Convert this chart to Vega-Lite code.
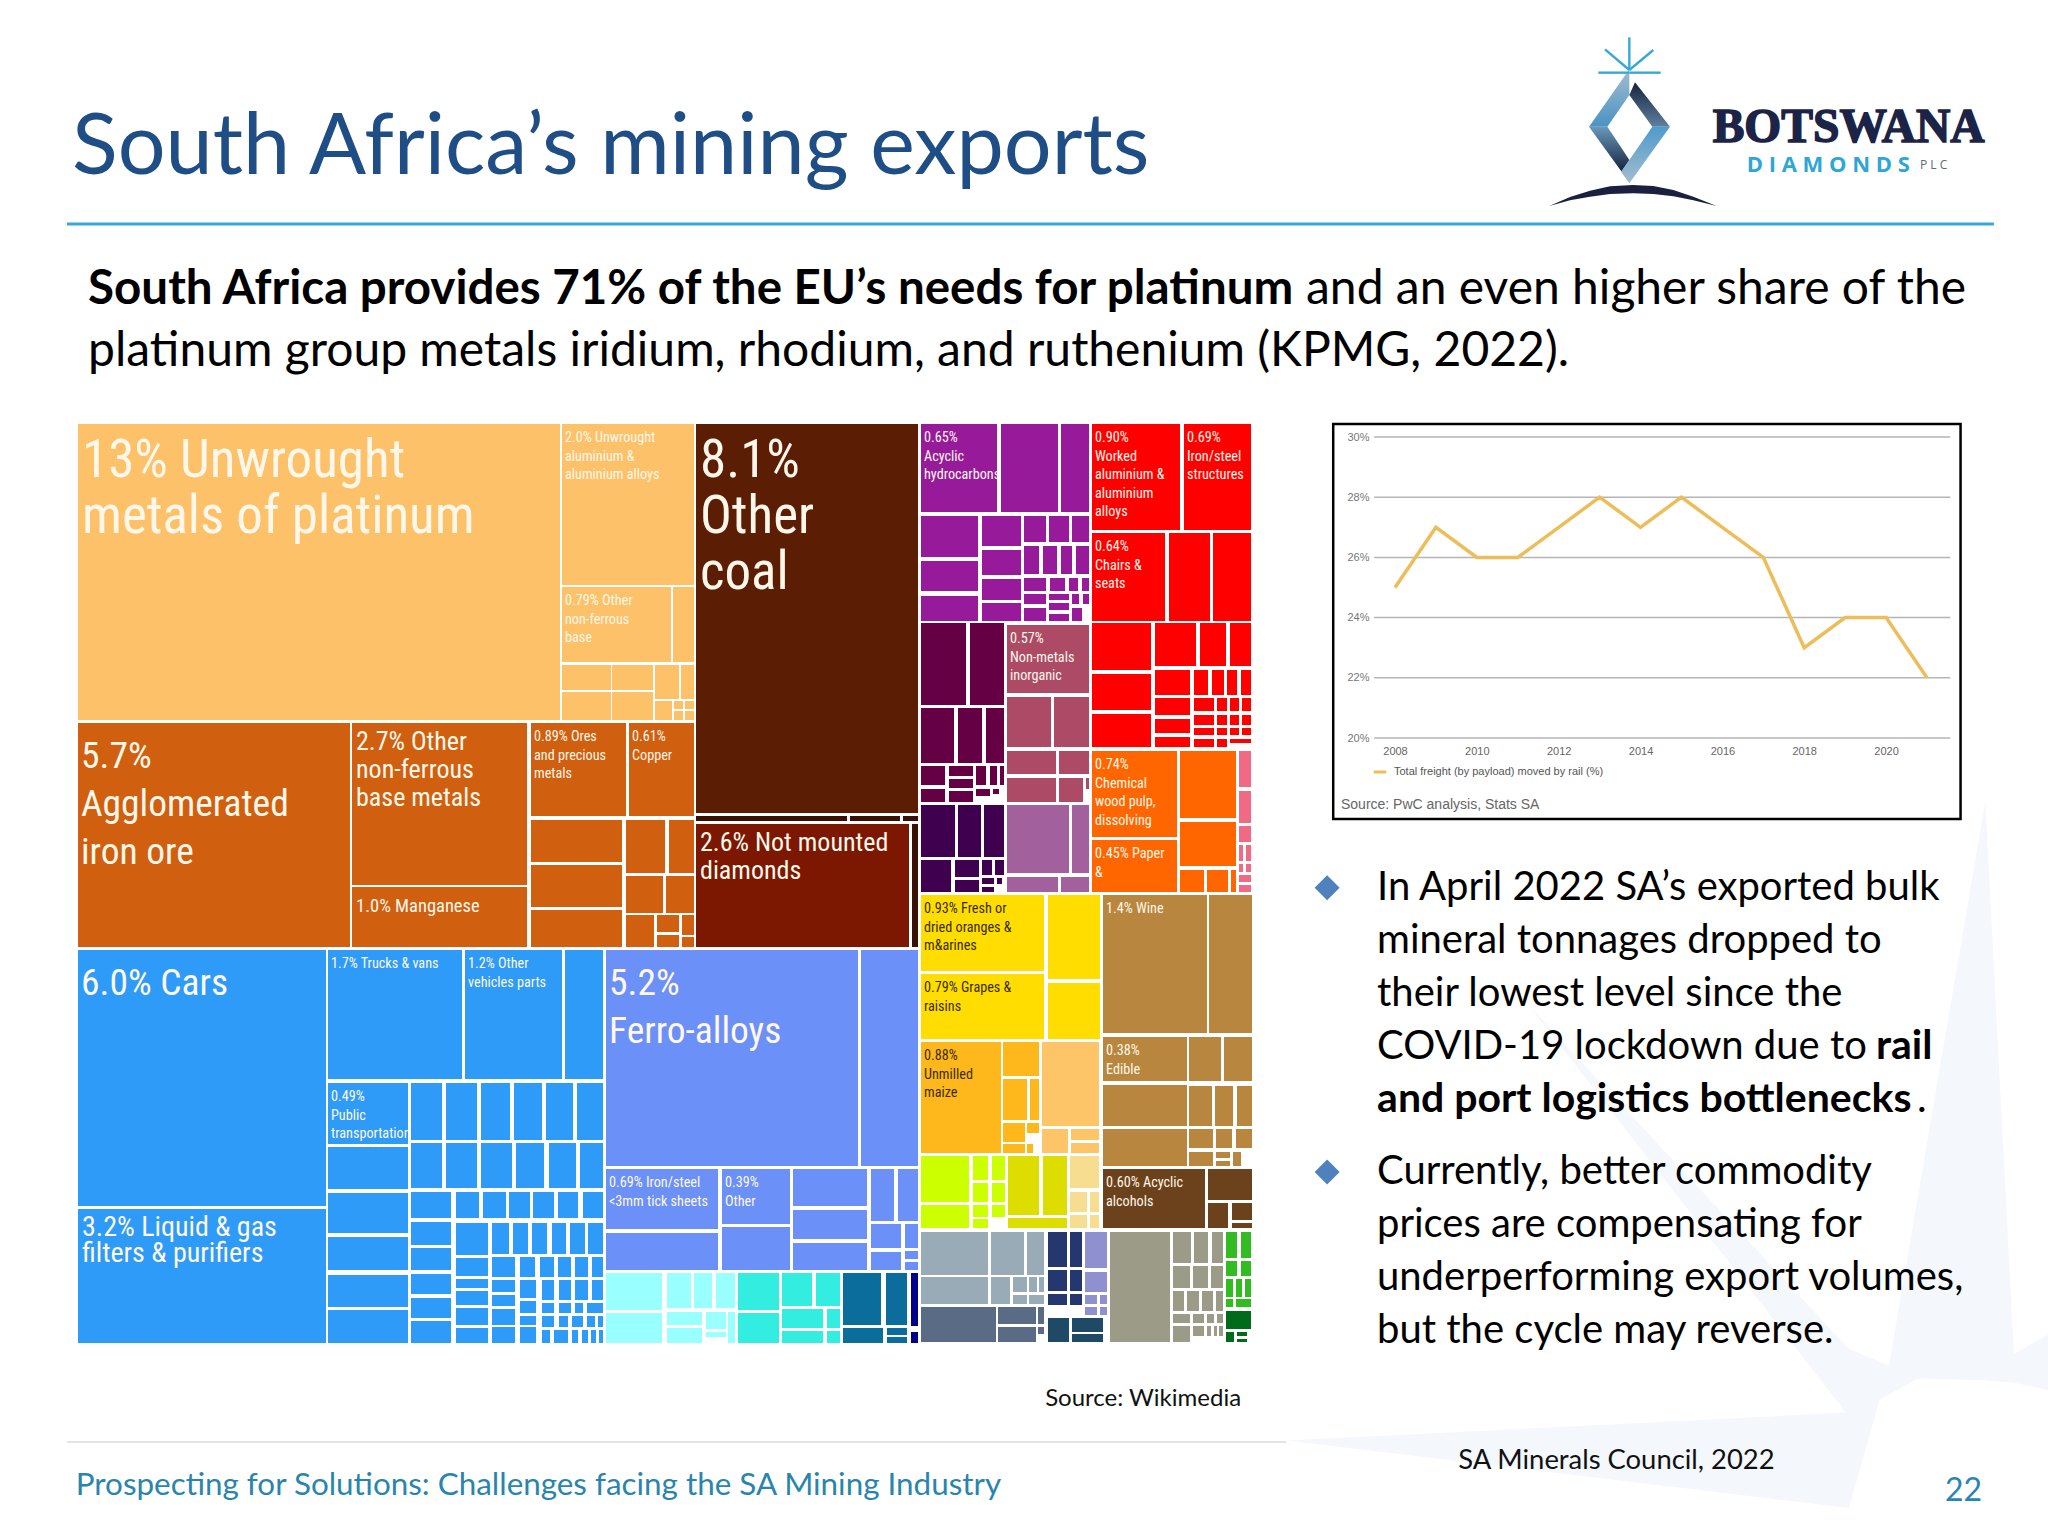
{
"$schema":"https://vega.github.io/schema/vega-lite/v6.json",
"description":"South Africa's mining exports slide",
"autosize":{"type":"fit","contains":"padding"},
"width":2048,"height":1536,"padding":0,"background":"#ffffff",
"config":{"view":{"stroke":null},"text":{"font":"Lato","baseline":"alphabetic"}},
"resolve":{"scale":{"x":"independent","y":"independent","color":"independent"},"axis":{"x":"independent","y":"independent"},"legend":{"color":"independent"}},
"datasets":{
"watermark":[
{"ray":"left","x":160,"y":1370,"y2":1370},{"ray":"left","x":1200,"y":1312,"y2":1510},{"ray":"left","x":1268,"y":1240,"y2":1240},
{"ray":"diag","x":610,"y":470,"y2":470},{"ray":"diag","x":1200,"y":1180,"y2":1320},{"ray":"diag","x":1330,"y":1240,"y2":1240},
{"ray":"up","x":1270,"y":1240,"y2":1240},{"ray":"up","x":1452,"y":45,"y2":1245},{"ray":"up","x":1505,"y":1190,"y2":1250},{"ray":"up","x":1568,"y":1150,"y2":1265}
],
"bands":[
{"band":"a","x":207,"y":320,"y2":320},{"band":"a","x":262,"y":242,"y2":320},{"band":"a","x":328,"y":148,"y2":225},
{"band":"b","x":328,"y":225,"y2":225},{"band":"b","x":345,"y":187,"y2":248},{"band":"b","x":397,"y":253,"y2":320},{"band":"b","x":450,"y":320,"y2":320},
{"band":"c","x":207,"y":320,"y2":320},{"band":"c","x":262,"y":320,"y2":396},{"band":"c","x":305,"y":385,"y2":455},{"band":"c","x":328,"y":420,"y2":420},
{"band":"d","x":303,"y":455,"y2":455},{"band":"d","x":328,"y":420,"y2":490},{"band":"d","x":397,"y":320,"y2":394},{"band":"d","x":450,"y":320,"y2":320}
],
"arc":[
{"x":88,"y":558,"y2":558},{"x":150,"y":531,"y2":541},{"x":210,"y":512,"y2":530},{"x":270,"y":499,"y2":522},{"x":339,"y":495,"y2":520},{"x":400,"y":498,"y2":522},{"x":460,"y":510,"y2":529},{"x":520,"y":530,"y2":541},{"x":590,"y":558,"y2":558}
],
"rays":[
{"ray":"n","x":328,"y":150},{"ray":"n","x":328,"y":52},
{"ray":"nw","x":328,"y":150},{"ray":"nw","x":255,"y":88},
{"ray":"ne","x":328,"y":150},{"ray":"ne","x":400,"y":90},
{"ray":"w","x":328,"y":158},{"ray":"w","x":235,"y":158},
{"ray":"e","x":328,"y":158},{"ray":"e","x":422,"y":158}
],
"rail":[
{"year":2008,"share":25},{"year":2009,"share":27},{"year":2010,"share":26},{"year":2011,"share":26},{"year":2012,"share":27},{"year":2013,"share":28},{"year":2014,"share":27},{"year":2015,"share":28},{"year":2016,"share":27},{"year":2017,"share":26},{"year":2018,"share":23},{"year":2019,"share":24},{"year":2020,"share":24},{"year":2021,"share":22}
],
"gridlines":[{"share":20},{"share":22},{"share":24},{"share":26},{"share":28},{"share":30}],
"bodyLines":[
{"line":0,"text":"In April 2022 SA’s exported bulk"},
{"line":1,"text":"mineral tonnages dropped to"},
{"line":2,"text":"their lowest level since the"},
{"line":3,"text":"COVID-19 lockdown due to"},
{"line":5.36,"text":"Currently, better commodity"},
{"line":6.36,"text":"prices are compensating for"},
{"line":7.36,"text":"underperforming export volumes,"},
{"line":8.36,"text":"but the cycle may reverse."}
],
"cells":[
{"group":"peach","x0":0,"x1":482,"y0":0,"y1":296,"label":"13% Unwrought\nmetals of platinum","tier":"xl"},
{"group":"peach","x0":484,"x1":616,"y0":0,"y1":161,"label":"2.0% Unwrought\naluminium &\naluminium alloys","tier":"t"},
{"group":"peach","x0":484,"x1":593,"y0":163,"y1":238,"label":"0.79% Other\nnon-ferrous\nbase","tier":"t"},
{"group":"peach","x0":595,"x1":616,"y0":163,"y1":238},
{"group":"peach","x0":484,"x1":533,"y0":241,"y1":266},{"group":"peach","x0":484,"x1":533,"y0":268,"y1":296},
{"group":"peach","x0":534,"x1":575,"y0":241,"y1":266},{"group":"peach","x0":534,"x1":575,"y0":268,"y1":296},
{"group":"peach","x0":577,"x1":601,"y0":241,"y1":275},{"group":"peach","x0":603,"x1":616,"y0":241,"y1":275},
{"group":"peach","x0":577,"x1":594,"y0":277,"y1":296},{"group":"peach","x0":596,"x1":605,"y0":277,"y1":285},{"group":"peach","x0":607,"x1":616,"y0":277,"y1":285},{"group":"peach","x0":596,"x1":605,"y0":287,"y1":296},{"group":"peach","x0":607,"x1":616,"y0":287,"y1":296},

{"group":"orange","x0":0,"x1":272,"y0":299,"y1":523,"label":"5.7%\nAgglomerated\niron ore","tier":"l"},
{"group":"orange","x0":274,"x1":449,"y0":299,"y1":461,"label":"2.7% Other\nnon-ferrous\nbase metals","tier":"s"},
{"group":"orange","x0":274,"x1":449,"y0":463,"y1":523,"label":"1.0% Manganese","tier":"xs"},
{"group":"orange","x0":453,"x1":548,"y0":299,"y1":392,"label":"0.89% Ores\nand precious\nmetals","tier":"t"},
{"group":"orange","x0":551,"x1":616,"y0":299,"y1":392,"label":"0.61%\nCopper","tier":"t"},
{"group":"orange","x0":453,"x1":544,"y0":396,"y1":438},{"group":"orange","x0":453,"x1":544,"y0":441,"y1":483},{"group":"orange","x0":453,"x1":544,"y0":486,"y1":523},
{"group":"orange","x0":548,"x1":587,"y0":396,"y1":449},{"group":"orange","x0":591,"x1":616,"y0":396,"y1":449},
{"group":"orange","x0":548,"x1":585,"y0":452,"y1":489},{"group":"orange","x0":588,"x1":616,"y0":452,"y1":489},
{"group":"orange","x0":548,"x1":576,"y0":491,"y1":523},{"group":"orange","x0":579,"x1":601,"y0":491,"y1":508},{"group":"orange","x0":579,"x1":601,"y0":511,"y1":523},{"group":"orange","x0":604,"x1":616,"y0":491,"y1":511},{"group":"orange","x0":604,"x1":616,"y0":513,"y1":523},

{"group":"coal","x0":618,"x1":840,"y0":0,"y1":389,"label":"8.1%\nOther\ncoal","tier":"xl"},
{"group":"coalDark","x0":618,"x1":769,"y0":392,"y1":397},{"group":"coalDark","x0":772,"x1":822,"y0":392,"y1":397},{"group":"coalDark","x0":825,"x1":840,"y0":392,"y1":397},
{"group":"diamonds","x0":618,"x1":831,"y0":400,"y1":523,"label":"2.6% Not mounted\ndiamonds","tier":"s"},
{"group":"coalDark","x0":834,"x1":840,"y0":400,"y1":523},

{"group":"purple","x0":843,"x1":919,"y0":0,"y1":88,"label":"0.65%\nAcyclic\nhydrocarbons","tier":"t"},
{"group":"purple","x0":923,"x1":980,"y0":0,"y1":88},{"group":"purple","x0":983,"x1":1011,"y0":0,"y1":88},
{"group":"purple","x0":843,"x1":900,"y0":92,"y1":133},{"group":"purple","x0":843,"x1":900,"y0":137,"y1":167},{"group":"purple","x0":843,"x1":900,"y0":172,"y1":197},
{"group":"purple","x0":904,"x1":943,"y0":92,"y1":122},{"group":"purple","x0":904,"x1":943,"y0":126,"y1":151},{"group":"purple","x0":904,"x1":943,"y0":155,"y1":176},{"group":"purple","x0":904,"x1":943,"y0":179,"y1":197},
{"group":"purple","x0":946,"x1":968,"y0":92,"y1":118},{"group":"purple","x0":971,"x1":991,"y0":92,"y1":118},{"group":"purple","x0":994,"x1":1011,"y0":92,"y1":118},
{"group":"purple","x0":946,"x1":961,"y0":122,"y1":150},{"group":"purple","x0":965,"x1":979,"y0":122,"y1":150},{"group":"purple","x0":983,"x1":994,"y0":122,"y1":150},{"group":"purple","x0":998,"x1":1011,"y0":122,"y1":150},
{"group":"purple","x0":946,"x1":968,"y0":154,"y1":167},{"group":"purple","x0":972,"x1":987,"y0":154,"y1":167},{"group":"purple","x0":991,"x1":1000,"y0":154,"y1":167},{"group":"purple","x0":1004,"x1":1011,"y0":154,"y1":167},
{"group":"purple","x0":946,"x1":968,"y0":170,"y1":180},{"group":"purple","x0":971,"x1":991,"y0":170,"y1":176},{"group":"purple","x0":994,"x1":1001,"y0":170,"y1":180},{"group":"purple","x0":1005,"x1":1011,"y0":170,"y1":180},
{"group":"purple","x0":946,"x1":968,"y0":184,"y1":197},{"group":"purple","x0":971,"x1":991,"y0":179,"y1":186},{"group":"purple","x0":971,"x1":991,"y0":190,"y1":197},{"group":"purple","x0":994,"x1":1004,"y0":184,"y1":197},

{"group":"plum","x0":843,"x1":888,"y0":199,"y1":281},{"group":"plum","x0":892,"x1":926,"y0":199,"y1":281},
{"group":"plum","x0":843,"x1":876,"y0":284,"y1":339},{"group":"plum","x0":880,"x1":904,"y0":284,"y1":339},{"group":"plum","x0":908,"x1":926,"y0":284,"y1":339},
{"group":"plum","x0":843,"x1":867,"y0":342,"y1":361},{"group":"plum","x0":871,"x1":895,"y0":342,"y1":352},{"group":"plum","x0":871,"x1":895,"y0":355,"y1":364},{"group":"plum","x0":898,"x1":908,"y0":342,"y1":361},{"group":"plum","x0":912,"x1":919,"y0":342,"y1":361},{"group":"plum","x0":922,"x1":926,"y0":342,"y1":361},
{"group":"plum","x0":843,"x1":867,"y0":365,"y1":378},{"group":"plum","x0":871,"x1":895,"y0":367,"y1":378},{"group":"plum","x0":898,"x1":912,"y0":365,"y1":372},{"group":"plum","x0":915,"x1":921,"y0":365,"y1":370},

{"group":"aubergine","x0":843,"x1":877,"y0":381,"y1":433},{"group":"aubergine","x0":880,"x1":903,"y0":381,"y1":433},{"group":"aubergine","x0":906,"x1":926,"y0":381,"y1":433},
{"group":"aubergine","x0":843,"x1":873,"y0":436,"y1":468},{"group":"aubergine","x0":877,"x1":901,"y0":436,"y1":453},{"group":"aubergine","x0":877,"x1":901,"y0":456,"y1":468},{"group":"aubergine","x0":904,"x1":914,"y0":436,"y1":451},{"group":"aubergine","x0":917,"x1":926,"y0":436,"y1":451},{"group":"aubergine","x0":904,"x1":916,"y0":454,"y1":460},{"group":"aubergine","x0":904,"x1":916,"y0":463,"y1":468},{"group":"aubergine","x0":919,"x1":924,"y0":454,"y1":460},

{"group":"rose","x0":929,"x1":1011,"y0":201,"y1":269,"label":"0.57%\nNon-metals\ninorganic","tier":"t"},
{"group":"rose","x0":929,"x1":973,"y0":273,"y1":323},{"group":"rose","x0":976,"x1":1011,"y0":273,"y1":323},
{"group":"rose","x0":929,"x1":978,"y0":327,"y1":350},{"group":"rose","x0":981,"x1":1011,"y0":327,"y1":350},
{"group":"rose","x0":929,"x1":978,"y0":354,"y1":378},{"group":"rose","x0":981,"x1":1005,"y0":354,"y1":378},{"group":"rose","x0":1008,"x1":1011,"y0":354,"y1":365},
{"group":"mauve","x0":929,"x1":991,"y0":381,"y1":449},{"group":"mauve","x0":994,"x1":1011,"y0":381,"y1":449},{"group":"mauve","x0":929,"x1":980,"y0":453,"y1":468},{"group":"mauve","x0":983,"x1":1011,"y0":453,"y1":468},

{"group":"red","x0":1014,"x1":1102,"y0":0,"y1":106,"label":"0.90%\nWorked\naluminium &\naluminium\nalloys","tier":"t"},
{"group":"red","x0":1106,"x1":1173,"y0":0,"y1":106,"label":"0.69%\nIron/steel\nstructures","tier":"t"},
{"group":"red","x0":1014,"x1":1087,"y0":109,"y1":197,"label":"0.64%\nChairs &\nseats","tier":"t"},
{"group":"red","x0":1091,"x1":1132,"y0":109,"y1":197},{"group":"red","x0":1135,"x1":1173,"y0":109,"y1":197},
{"group":"red","x0":1014,"x1":1073,"y0":199,"y1":246},{"group":"red","x0":1014,"x1":1073,"y0":250,"y1":286},{"group":"red","x0":1014,"x1":1073,"y0":290,"y1":323},
{"group":"red","x0":1077,"x1":1118,"y0":199,"y1":242},{"group":"red","x0":1122,"x1":1148,"y0":199,"y1":242},{"group":"red","x0":1152,"x1":1173,"y0":199,"y1":242},
{"group":"red","x0":1077,"x1":1112,"y0":246,"y1":271},{"group":"red","x0":1116,"x1":1130,"y0":246,"y1":271},{"group":"red","x0":1134,"x1":1146,"y0":246,"y1":271},{"group":"red","x0":1149,"x1":1159,"y0":246,"y1":271},{"group":"red","x0":1163,"x1":1173,"y0":246,"y1":271},
{"group":"red","x0":1077,"x1":1112,"y0":274,"y1":291},{"group":"red","x0":1077,"x1":1112,"y0":295,"y1":309},{"group":"red","x0":1077,"x1":1112,"y0":313,"y1":323},
{"group":"red","x0":1116,"x1":1136,"y0":274,"y1":287},{"group":"red","x0":1116,"x1":1136,"y0":291,"y1":301},{"group":"red","x0":1116,"x1":1136,"y0":304,"y1":311},{"group":"red","x0":1116,"x1":1136,"y0":315,"y1":323},
{"group":"red","x0":1139,"x1":1149,"y0":274,"y1":287},{"group":"red","x0":1152,"x1":1161,"y0":274,"y1":287},{"group":"red","x0":1164,"x1":1173,"y0":274,"y1":287},
{"group":"red","x0":1139,"x1":1149,"y0":291,"y1":301},{"group":"red","x0":1152,"x1":1161,"y0":291,"y1":301},{"group":"red","x0":1164,"x1":1173,"y0":291,"y1":301},
{"group":"red","x0":1139,"x1":1149,"y0":304,"y1":311},{"group":"red","x0":1152,"x1":1161,"y0":304,"y1":311},{"group":"red","x0":1164,"x1":1173,"y0":304,"y1":311},
{"group":"red","x0":1139,"x1":1149,"y0":315,"y1":323},{"group":"red","x0":1152,"x1":1173,"y0":315,"y1":319},

{"group":"bright","x0":1014,"x1":1099,"y0":327,"y1":413,"label":"0.74%\nChemical\nwood pulp,\ndissolving","tier":"t"},
{"group":"bright","x0":1014,"x1":1099,"y0":416,"y1":468,"label":"0.45% Paper\n&","tier":"t"},
{"group":"bright","x0":1102,"x1":1158,"y0":327,"y1":394},{"group":"bright","x0":1102,"x1":1158,"y0":398,"y1":442},
{"group":"bright","x0":1102,"x1":1126,"y0":446,"y1":468},{"group":"bright","x0":1129,"x1":1150,"y0":446,"y1":468},{"group":"bright","x0":1153,"x1":1158,"y0":446,"y1":468},
{"group":"pink","x0":1161,"x1":1173,"y0":327,"y1":363},{"group":"pink","x0":1161,"x1":1173,"y0":367,"y1":399},{"group":"pink","x0":1161,"x1":1173,"y0":402,"y1":418},
{"group":"pink","x0":1161,"x1":1165,"y0":421,"y1":437},{"group":"pink","x0":1168,"x1":1173,"y0":421,"y1":437},{"group":"pink","x0":1161,"x1":1165,"y0":440,"y1":448},{"group":"pink","x0":1168,"x1":1173,"y0":440,"y1":448},{"group":"pink","x0":1161,"x1":1173,"y0":451,"y1":458},{"group":"pink","x0":1161,"x1":1173,"y0":461,"y1":468},

{"group":"blue","x0":0,"x1":248,"y0":526,"y1":782,"label":"6.0% Cars","tier":"l"},
{"group":"blue","x0":0,"x1":248,"y0":785,"y1":919,"label":"3.2% Liquid & gas\nfilters & purifiers","tier":"m"},
{"group":"blue","x0":250,"x1":384,"y0":526,"y1":655,"label":"1.7% Trucks & vans","tier":"t"},
{"group":"blue","x0":387,"x1":484,"y0":526,"y1":655,"label":"1.2% Other\nvehicles parts","tier":"t"},
{"group":"blue","x0":487,"x1":525,"y0":526,"y1":655},
{"group":"blue","x0":250,"x1":330,"y0":659,"y1":720,"label":"0.49%\nPublic\ntransportation","tier":"t"},
{"group":"blue","x0":250,"x1":330,"y0":723,"y1":765},{"group":"blue","x0":250,"x1":330,"y0":769,"y1":809},{"group":"blue","x0":250,"x1":330,"y0":813,"y1":846},{"group":"blue","x0":250,"x1":330,"y0":851,"y1":883},{"group":"blue","x0":250,"x1":330,"y0":886,"y1":919},
{"group":"blue","x0":333,"x1":364,"y0":659,"y1":716},{"group":"blue","x0":368,"x1":399,"y0":659,"y1":716},{"group":"blue","x0":403,"x1":432,"y0":659,"y1":716},{"group":"blue","x0":436,"x1":464,"y0":659,"y1":716},{"group":"blue","x0":468,"x1":495,"y0":659,"y1":716},{"group":"blue","x0":499,"x1":525,"y0":659,"y1":716},
{"group":"blue","x0":333,"x1":364,"y0":719,"y1":764},{"group":"blue","x0":368,"x1":399,"y0":719,"y1":764},{"group":"blue","x0":403,"x1":434,"y0":719,"y1":764},{"group":"blue","x0":438,"x1":466,"y0":719,"y1":764},{"group":"blue","x0":471,"x1":498,"y0":719,"y1":764},{"group":"blue","x0":502,"x1":525,"y0":719,"y1":764},
{"group":"blue","x0":333,"x1":373,"y0":768,"y1":794},{"group":"blue","x0":378,"x1":401,"y0":768,"y1":794},{"group":"blue","x0":405,"x1":428,"y0":768,"y1":794},{"group":"blue","x0":431,"x1":452,"y0":768,"y1":794},{"group":"blue","x0":455,"x1":476,"y0":768,"y1":794},{"group":"blue","x0":480,"x1":500,"y0":768,"y1":794},{"group":"blue","x0":505,"x1":525,"y0":768,"y1":794},
{"group":"blue","x0":333,"x1":373,"y0":798,"y1":821},{"group":"blue","x0":333,"x1":373,"y0":824,"y1":846},{"group":"blue","x0":333,"x1":373,"y0":850,"y1":870},{"group":"blue","x0":333,"x1":373,"y0":874,"y1":894},{"group":"blue","x0":333,"x1":373,"y0":897,"y1":919},
{"group":"blue","x0":378,"x1":410,"y0":799,"y1":831},{"group":"blue","x0":378,"x1":410,"y0":834,"y1":852},{"group":"blue","x0":378,"x1":410,"y0":855,"y1":864},{"group":"blue","x0":378,"x1":410,"y0":867,"y1":881},{"group":"blue","x0":378,"x1":410,"y0":884,"y1":901},{"group":"blue","x0":378,"x1":410,"y0":904,"y1":919},
{"group":"blue","x0":414,"x1":431,"y0":799,"y1":830},{"group":"blue","x0":435,"x1":450,"y0":799,"y1":830},{"group":"blue","x0":454,"x1":469,"y0":799,"y1":830},{"group":"blue","x0":474,"x1":488,"y0":799,"y1":830},{"group":"blue","x0":492,"x1":507,"y0":799,"y1":830},{"group":"blue","x0":510,"x1":525,"y0":799,"y1":830},
{"group":"blue","x0":414,"x1":437,"y0":833,"y1":853},{"group":"blue","x0":442,"x1":457,"y0":833,"y1":853},{"group":"blue","x0":462,"x1":476,"y0":833,"y1":853},{"group":"blue","x0":480,"x1":493,"y0":833,"y1":853},{"group":"blue","x0":497,"x1":510,"y0":833,"y1":853},{"group":"blue","x0":514,"x1":525,"y0":833,"y1":853},
{"group":"blue","x0":414,"x1":437,"y0":856,"y1":868},{"group":"blue","x0":414,"x1":437,"y0":871,"y1":882},{"group":"blue","x0":414,"x1":437,"y0":885,"y1":901},{"group":"blue","x0":414,"x1":437,"y0":903,"y1":919},
{"group":"blue","x0":442,"x1":458,"y0":856,"y1":874},{"group":"blue","x0":442,"x1":458,"y0":877,"y1":889},{"group":"blue","x0":442,"x1":458,"y0":892,"y1":901},{"group":"blue","x0":442,"x1":458,"y0":903,"y1":919},
{"group":"blue","x0":464,"x1":476,"y0":856,"y1":876},{"group":"blue","x0":481,"x1":493,"y0":856,"y1":876},{"group":"blue","x0":497,"x1":510,"y0":856,"y1":876},{"group":"blue","x0":514,"x1":525,"y0":856,"y1":876},
{"group":"blue","x0":464,"x1":476,"y0":879,"y1":889},{"group":"blue","x0":481,"x1":493,"y0":879,"y1":889},{"group":"blue","x0":497,"x1":505,"y0":879,"y1":889},{"group":"blue","x0":509,"x1":525,"y0":879,"y1":889},
{"group":"blue","x0":464,"x1":476,"y0":892,"y1":903},{"group":"blue","x0":481,"x1":490,"y0":892,"y1":903},{"group":"blue","x0":494,"x1":505,"y0":892,"y1":903},{"group":"blue","x0":509,"x1":517,"y0":892,"y1":903},{"group":"blue","x0":520,"x1":525,"y0":892,"y1":903},
{"group":"blue","x0":464,"x1":472,"y0":906,"y1":919},{"group":"blue","x0":476,"x1":490,"y0":906,"y1":919},{"group":"blue","x0":494,"x1":500,"y0":906,"y1":919},{"group":"blue","x0":504,"x1":510,"y0":906,"y1":919},{"group":"blue","x0":513,"x1":518,"y0":906,"y1":919},{"group":"blue","x0":521,"x1":525,"y0":906,"y1":919},

{"group":"peri","x0":528,"x1":780,"y0":526,"y1":742,"label":"5.2%\nFerro-alloys","tier":"l"},
{"group":"peri","x0":783,"x1":840,"y0":526,"y1":742},
{"group":"peri","x0":528,"x1":640,"y0":745,"y1":805,"label":"0.69% Iron/steel\n<3mm tick sheets","tier":"t"},
{"group":"peri","x0":528,"x1":640,"y0":809,"y1":846},
{"group":"peri","x0":644,"x1":712,"y0":745,"y1":800,"label":"0.39%\nOther","tier":"t"},
{"group":"peri","x0":644,"x1":712,"y0":803,"y1":846},
{"group":"peri","x0":715,"x1":789,"y0":745,"y1":782},{"group":"peri","x0":715,"x1":789,"y0":786,"y1":815},{"group":"peri","x0":715,"x1":789,"y0":819,"y1":846},
{"group":"peri","x0":793,"x1":816,"y0":745,"y1":797},{"group":"peri","x0":820,"x1":840,"y0":745,"y1":797},
{"group":"peri","x0":793,"x1":823,"y0":800,"y1":824},{"group":"peri","x0":827,"x1":840,"y0":800,"y1":824},
{"group":"peri","x0":793,"x1":823,"y0":828,"y1":846},{"group":"peri","x0":827,"x1":840,"y0":827,"y1":835},{"group":"peri","x0":827,"x1":840,"y0":838,"y1":846},

{"group":"lightcyan","x0":528,"x1":584,"y0":849,"y1":886},{"group":"lightcyan","x0":528,"x1":584,"y0":889,"y1":919},
{"group":"lightcyan","x0":589,"x1":613,"y0":849,"y1":884},{"group":"lightcyan","x0":616,"x1":634,"y0":849,"y1":884},{"group":"lightcyan","x0":638,"x1":657,"y0":849,"y1":884},
{"group":"lightcyan","x0":589,"x1":624,"y0":888,"y1":901},{"group":"lightcyan","x0":589,"x1":624,"y0":904,"y1":919},{"group":"lightcyan","x0":628,"x1":648,"y0":888,"y1":905},{"group":"lightcyan","x0":628,"x1":648,"y0":908,"y1":913},{"group":"lightcyan","x0":650,"x1":657,"y0":888,"y1":919},
{"group":"turq","x0":660,"x1":701,"y0":849,"y1":886},{"group":"turq","x0":660,"x1":701,"y0":889,"y1":919},{"group":"turq","x0":704,"x1":734,"y0":849,"y1":882},{"group":"turq","x0":738,"x1":762,"y0":849,"y1":882},
{"group":"turq","x0":704,"x1":745,"y0":885,"y1":904},{"group":"turq","x0":749,"x1":762,"y0":885,"y1":904},{"group":"turq","x0":704,"x1":745,"y0":907,"y1":919},{"group":"turq","x0":749,"x1":762,"y0":907,"y1":919},
{"group":"teal","x0":765,"x1":803,"y0":849,"y1":901},{"group":"teal","x0":808,"x1":829,"y0":849,"y1":901},{"group":"teal","x0":765,"x1":805,"y0":904,"y1":919},{"group":"teal","x0":809,"x1":829,"y0":904,"y1":911},{"group":"teal","x0":809,"x1":829,"y0":913,"y1":919},
{"group":"navyDeep","x0":833,"x1":840,"y0":849,"y1":902},{"group":"navyDeep","x0":833,"x1":840,"y0":908,"y1":919},

{"group":"yellow","x0":843,"x1":966,"y0":471,"y1":547,"label":"0.93% Fresh or\ndried oranges &\nm&arines","tier":"t"},
{"group":"yellow","x0":843,"x1":966,"y0":550,"y1":615,"label":"0.79% Grapes &\nraisins","tier":"t"},
{"group":"yellow","x0":970,"x1":1022,"y0":471,"y1":555},{"group":"yellow","x0":970,"x1":1022,"y0":559,"y1":615},
{"group":"amber","x0":843,"x1":923,"y0":618,"y1":729,"label":"0.88%\nUnmilled\nmaize","tier":"t"},
{"group":"amber","x0":925,"x1":961,"y0":618,"y1":652},{"group":"amber","x0":925,"x1":949,"y0":655,"y1":696},{"group":"amber","x0":952,"x1":961,"y0":655,"y1":696},
{"group":"amber","x0":925,"x1":947,"y0":699,"y1":718},{"group":"amber","x0":949,"x1":961,"y0":699,"y1":709},{"group":"amber","x0":925,"x1":947,"y0":720,"y1":729},{"group":"amber","x0":949,"x1":955,"y0":720,"y1":729},
{"group":"lightamber","x0":964,"x1":1021,"y0":618,"y1":702},{"group":"lightamber","x0":964,"x1":990,"y0":705,"y1":729},{"group":"lightamber","x0":993,"x1":1021,"y0":705,"y1":716},{"group":"lightamber","x0":993,"x1":1021,"y0":719,"y1":729},
{"group":"lime","x0":843,"x1":891,"y0":732,"y1":778},{"group":"lime","x0":843,"x1":891,"y0":781,"y1":804},
{"group":"lime","x0":895,"x1":910,"y0":732,"y1":756},{"group":"lime","x0":914,"x1":927,"y0":732,"y1":756},{"group":"lime","x0":895,"x1":910,"y0":759,"y1":778},{"group":"lime","x0":914,"x1":927,"y0":759,"y1":778},{"group":"lime","x0":895,"x1":910,"y0":781,"y1":793},{"group":"lime","x0":914,"x1":927,"y0":781,"y1":793},{"group":"lime","x0":895,"x1":910,"y0":795,"y1":804},
{"group":"olive","x0":930,"x1":961,"y0":732,"y1":791},{"group":"olive","x0":965,"x1":989,"y0":732,"y1":791},{"group":"olive","x0":930,"x1":989,"y0":794,"y1":804},
{"group":"cream","x0":992,"x1":1021,"y0":732,"y1":764},{"group":"cream","x0":992,"x1":1009,"y0":768,"y1":788},{"group":"cream","x0":1012,"x1":1021,"y0":768,"y1":788},{"group":"cream","x0":992,"x1":1009,"y0":791,"y1":804},{"group":"cream","x0":1012,"x1":1021,"y0":791,"y1":804},

{"group":"tan","x0":1025,"x1":1129,"y0":471,"y1":609,"label":"1.4% Wine","tier":"t"},
{"group":"tan","x0":1131,"x1":1174,"y0":471,"y1":609},
{"group":"tan","x0":1025,"x1":1109,"y0":613,"y1":657,"label":"0.38%\nEdible","tier":"t"},
{"group":"tan","x0":1111,"x1":1143,"y0":613,"y1":657},{"group":"tan","x0":1146,"x1":1174,"y0":613,"y1":657},
{"group":"tan","x0":1025,"x1":1109,"y0":661,"y1":702},{"group":"tan","x0":1025,"x1":1109,"y0":705,"y1":742},
{"group":"tan","x0":1111,"x1":1134,"y0":662,"y1":702},{"group":"tan","x0":1137,"x1":1155,"y0":662,"y1":702},{"group":"tan","x0":1159,"x1":1174,"y0":662,"y1":702},
{"group":"tan","x0":1111,"x1":1135,"y0":705,"y1":724},{"group":"tan","x0":1138,"x1":1154,"y0":705,"y1":724},{"group":"tan","x0":1158,"x1":1174,"y0":705,"y1":724},
{"group":"tan","x0":1111,"x1":1135,"y0":728,"y1":742},{"group":"tan","x0":1138,"x1":1152,"y0":728,"y1":734},{"group":"tan","x0":1138,"x1":1152,"y0":737,"y1":742},{"group":"tan","x0":1155,"x1":1163,"y0":728,"y1":742},
{"group":"brown","x0":1025,"x1":1127,"y0":745,"y1":804,"label":"0.60% Acyclic\nalcohols","tier":"t"},
{"group":"brown","x0":1130,"x1":1174,"y0":745,"y1":776},{"group":"brown","x0":1130,"x1":1150,"y0":779,"y1":804},{"group":"brown","x0":1154,"x1":1174,"y0":779,"y1":796},{"group":"brown","x0":1154,"x1":1174,"y0":799,"y1":804},

{"group":"steel","x0":843,"x1":910,"y0":808,"y1":851},{"group":"steel","x0":913,"x1":946,"y0":808,"y1":851},{"group":"steel","x0":949,"x1":966,"y0":808,"y1":851},
{"group":"steel","x0":843,"x1":910,"y0":853,"y1":880},{"group":"steel","x0":913,"x1":932,"y0":853,"y1":880},{"group":"steel","x0":935,"x1":949,"y0":853,"y1":868},{"group":"steel","x0":935,"x1":949,"y0":871,"y1":880},{"group":"steel","x0":951,"x1":959,"y0":853,"y1":868},{"group":"steel","x0":961,"x1":966,"y0":853,"y1":868},{"group":"steel","x0":951,"x1":966,"y0":871,"y1":880},
{"group":"slate","x0":843,"x1":918,"y0":883,"y1":918},{"group":"slate","x0":920,"x1":958,"y0":883,"y1":900},{"group":"slate","x0":920,"x1":958,"y0":903,"y1":918},{"group":"slate","x0":960,"x1":966,"y0":883,"y1":900},{"group":"slate","x0":960,"x1":966,"y0":903,"y1":910},
{"group":"navy","x0":970,"x1":989,"y0":808,"y1":843},{"group":"navy","x0":992,"x1":1004,"y0":808,"y1":843},{"group":"navy","x0":970,"x1":989,"y0":846,"y1":867},{"group":"navy","x0":992,"x1":1004,"y0":846,"y1":867},{"group":"navy","x0":970,"x1":989,"y0":870,"y1":881},{"group":"navy","x0":992,"x1":1004,"y0":870,"y1":881},
{"group":"lav","x0":1007,"x1":1029,"y0":808,"y1":844},{"group":"lav","x0":1007,"x1":1029,"y0":848,"y1":868},{"group":"lav","x0":1007,"x1":1019,"y0":871,"y1":880},{"group":"lav","x0":1022,"x1":1029,"y0":871,"y1":880},{"group":"lav","x0":1007,"x1":1019,"y0":883,"y1":891},{"group":"lav","x0":1022,"x1":1029,"y0":883,"y1":891},
{"group":"dteal","x0":970,"x1":991,"y0":894,"y1":918},{"group":"dteal","x0":994,"x1":1025,"y0":894,"y1":908},{"group":"dteal","x0":994,"x1":1025,"y0":910,"y1":918},
{"group":"taupe","x0":1032,"x1":1092,"y0":808,"y1":918},
{"group":"taupe","x0":1095,"x1":1113,"y0":808,"y1":839},{"group":"taupe","x0":1116,"x1":1130,"y0":808,"y1":839},{"group":"taupe","x0":1134,"x1":1145,"y0":808,"y1":839},
{"group":"taupe","x0":1095,"x1":1112,"y0":842,"y1":864},{"group":"taupe","x0":1115,"x1":1130,"y0":842,"y1":864},{"group":"taupe","x0":1133,"x1":1145,"y0":842,"y1":864},
{"group":"taupe","x0":1095,"x1":1106,"y0":867,"y1":887},{"group":"taupe","x0":1109,"x1":1121,"y0":867,"y1":887},{"group":"taupe","x0":1124,"x1":1135,"y0":867,"y1":887},{"group":"taupe","x0":1138,"x1":1145,"y0":867,"y1":887},
{"group":"taupe","x0":1095,"x1":1112,"y0":890,"y1":899},{"group":"taupe","x0":1115,"x1":1126,"y0":890,"y1":899},{"group":"taupe","x0":1129,"x1":1136,"y0":890,"y1":899},{"group":"taupe","x0":1139,"x1":1145,"y0":890,"y1":899},
{"group":"taupe","x0":1095,"x1":1112,"y0":902,"y1":918},{"group":"taupe","x0":1115,"x1":1126,"y0":902,"y1":912},{"group":"taupe","x0":1129,"x1":1133,"y0":902,"y1":912},{"group":"taupe","x0":1136,"x1":1139,"y0":902,"y1":912},{"group":"taupe","x0":1141,"x1":1145,"y0":902,"y1":912},
{"group":"green","x0":1148,"x1":1159,"y0":808,"y1":834},{"group":"green","x0":1163,"x1":1173,"y0":808,"y1":834},{"group":"green","x0":1148,"x1":1159,"y0":837,"y1":852},{"group":"green","x0":1163,"x1":1173,"y0":837,"y1":852},
{"group":"green","x0":1148,"x1":1155,"y0":855,"y1":873},{"group":"green","x0":1158,"x1":1164,"y0":855,"y1":873},{"group":"green","x0":1167,"x1":1173,"y0":855,"y1":873},{"group":"green","x0":1148,"x1":1155,"y0":875,"y1":883},{"group":"green","x0":1158,"x1":1173,"y0":875,"y1":883},
{"group":"dgreen","x0":1148,"x1":1173,"y0":887,"y1":905},{"group":"dgreen","x0":1148,"x1":1156,"y0":908,"y1":918},{"group":"dgreen","x0":1159,"x1":1169,"y0":908,"y1":912},{"group":"dgreen","x0":1159,"x1":1169,"y0":915,"y1":918}
]
},
"layer":[
{"data":{"name":"watermark"},
 "mark":{"type":"area","color":"#f4f7fc","line":false},
 "encoding":{
  "x":{"field":"x","type":"quantitative","axis":null,"scale":{"domain":[0,1568],"range":[1200,2048],"nice":false}},
  "y":{"field":"y","type":"quantitative","axis":null,"scale":{"domain":[0,1568],"range":[780,1536],"nice":false}},
  "y2":{"field":"y2"},
  "detail":{"field":"ray"}}},
{"layer":[
 {"data":{"values":[{"text":"South Africa’s mining exports"}]},"mark":{"type":"text","align":"left","font":"Lato","fontSize":84.5,"color":"#1f4e86"},
  "encoding":{"x":{"datum":3.52,"type":"quantitative","axis":null,"scale":{"domain":[0,100],"range":[0,2048],"nice":false}},"y":{"datum":11.3,"type":"quantitative","axis":null,"scale":{"domain":[0,100],"range":[0,1536],"nice":false}},"text":{"field":"text"}}},
 {"data":{"values":[{"rule":"header"}]},"mark":{"type":"rule","color":"#39a7d4","strokeWidth":3},
  "encoding":{"x":{"datum":3.27,"type":"quantitative"},"x2":{"datum":97.36},"y":{"datum":14.58,"type":"quantitative"}}},
 {"data":{"values":[{"rule":"footer"}]},"mark":{"type":"rule","color":"#e2e5e8","strokeWidth":2},
  "encoding":{"x":{"datum":3.27,"type":"quantitative"},"x2":{"datum":62.8},"y":{"datum":93.88,"type":"quantitative"}}},
 {"data":{"values":[{"text":"South Africa provides 71% of the EU’s needs for platinum"}]},"mark":{"type":"text","align":"left","fontSize":47.5,"fontWeight":"bold","font":"Lato","color":"#000000"},
  "encoding":{"x":{"datum":4.3,"type":"quantitative"},"y":{"datum":19.8,"type":"quantitative"},"text":{"field":"text"}}},
 {"data":{"values":[{"text":"and an even higher share of the"}]},"mark":{"type":"text","align":"left","fontSize":48,"font":"Lato","color":"#000000"},
  "encoding":{"x":{"datum":63.77,"type":"quantitative"},"y":{"datum":19.8,"type":"quantitative"},"text":{"field":"text"}}},
 {"data":{"values":[{"text":"platinum group metals iridium, rhodium, and ruthenium (KPMG, 2022)."}]},"mark":{"type":"text","align":"left","fontSize":48,"font":"Lato","color":"#000000"},
  "encoding":{"x":{"datum":4.3,"type":"quantitative"},"y":{"datum":23.83,"type":"quantitative"},"text":{"field":"text"}}},
 {"data":{"values":[{"text":"Source: Wikimedia"}]},"mark":{"type":"text","align":"right","fontSize":24,"font":"Lato","color":"#111111"},
  "encoding":{"x":{"datum":60.6,"type":"quantitative"},"y":{"datum":91.54,"type":"quantitative"},"text":{"field":"text"}}},
 {"data":{"values":[{"text":"SA Minerals Council, 2022"}]},"mark":{"type":"text","align":"left","fontSize":27.4,"font":"Lato","color":"#111111"},
  "encoding":{"x":{"datum":71.2,"type":"quantitative"},"y":{"datum":95.64,"type":"quantitative"},"text":{"field":"text"}}},
 {"data":{"values":[{"text":"Prospecting for Solutions: Challenges facing the SA Mining Industry"}]},"mark":{"type":"text","align":"left","fontSize":31.4,"font":"Lato","color":"#2a85ad"},
  "encoding":{"x":{"datum":3.7,"type":"quantitative"},"y":{"datum":97.33,"type":"quantitative"},"text":{"field":"text"}}},
 {"data":{"values":[{"text":"22"}]},"mark":{"type":"text","align":"left","fontSize":32,"font":"Lato","color":"#2a85b5"},
  "encoding":{"x":{"datum":94.97,"type":"quantitative"},"y":{"datum":97.72,"type":"quantitative"},"text":{"field":"text"}}},
 {"data":{"values":[{"text":"rail"}]},"mark":{"type":"text","align":"left","fontSize":41,"fontWeight":"bold","font":"Lato","color":"#000000"},
  "encoding":{"x":{"datum":91.6,"type":"quantitative"},"y":{"datum":68.95,"type":"quantitative"},"text":{"field":"text"}}},
 {"data":{"values":[{"text":"and port logistics bottlenecks"}]},"mark":{"type":"text","align":"left","fontSize":41,"fontWeight":"bold","font":"Lato","color":"#000000"},
  "encoding":{"x":{"datum":67.24,"type":"quantitative"},"y":{"datum":72.4,"type":"quantitative"},"text":{"field":"text"}}},
 {"data":{"values":[{"text":"."}]},"mark":{"type":"text","align":"left","fontSize":41,"font":"Lato","color":"#000000"},
  "encoding":{"x":{"datum":93.6,"type":"quantitative"},"y":{"datum":72.4,"type":"quantitative"},"text":{"field":"text"}}},
 {"data":{"values":[{"bullet":1,"y":57.8},{"bullet":2,"y":76.3}]},"mark":{"type":"point","shape":"diamond","filled":true,"size":625,"color":"#4f81bd","opacity":1},
  "encoding":{"x":{"datum":64.8,"type":"quantitative"},"y":{"field":"y","type":"quantitative"}}}
]},
{"data":{"name":"bodyLines"},"mark":{"type":"text","align":"left","fontSize":40,"font":"Lato","color":"#000000"},
 "encoding":{"x":{"datum":1377,"type":"quantitative","axis":null,"scale":{"domain":[0,2048],"range":[0,2048],"nice":false}},"y":{"field":"line","type":"quantitative","axis":null,"scale":{"domain":[0,8.36],"range":[900,1343],"nice":false}},"text":{"field":"text"}}},
{"layer":[
 {"data":{"name":"cells"},"mark":{"type":"rect"},
  "encoding":{
   "x":{"field":"x0","type":"quantitative","axis":null,"scale":{"domain":[0,1174],"range":[78,1252],"nice":false}},
   "x2":{"field":"x1"},
   "y":{"field":"y0","type":"quantitative","axis":null,"scale":{"domain":[0,919],"range":[424,1343],"nice":false}},
   "y2":{"field":"y1"},
   "color":{"field":"group","type":"nominal","legend":null,"scale":{
    "domain":["peach","orange","coal","coalDark","diamonds","purple","plum","aubergine","rose","mauve","red","bright","pink","blue","peri","lightcyan","turq","teal","navyDeep","yellow","amber","lightamber","lime","olive","cream","tan","brown","steel","slate","navy","lav","dteal","taupe","green","dgreen"],
    "range":["#fcc169","#d05f10","#5c1d05","#3a1004","#7c1702","#971a9a","#650045","#3f004f","#ad4b66","#a2609c","#ff0000","#ff6600","#f06a85","#2e9bf8","#6b90f8","#99ffff","#33eee0","#0b6d9c","#00008b","#ffdd00","#ffb81c","#fdc468","#ccff00","#dddd00","#f7dd90","#b8863f","#6c421c","#9aabb8","#5a6b85","#24386f","#8f90cf","#1f4a66","#9c9b88","#33bb22","#006b1a"]}}}},
 {"data":{"name":"cells"},"transform":[{"filter":"datum.tier==='xl'"}],"mark":{"type":"text","align":"left","baseline":"top","font":"'Roboto Condensed','Noto Sans Condensed','Open Sans Condensed','DejaVu Sans Condensed',Roboto","fontSize":53,"lineHeight":56,"lineBreak":"\n","dx":4,"dy":11,"color":"#fff8ea"},
  "encoding":{"x":{"field":"x0","type":"quantitative"},"y":{"field":"y0","type":"quantitative"},"text":{"field":"label"}}},
 {"data":{"name":"cells"},"transform":[{"filter":"datum.tier==='l'"}],"mark":{"type":"text","align":"left","baseline":"top","font":"'Roboto Condensed','Noto Sans Condensed','Open Sans Condensed','DejaVu Sans Condensed',Roboto","fontSize":37.5,"lineHeight":48,"lineBreak":"\n","dx":3,"dy":15,"color":"#fff8ea"},
  "encoding":{"x":{"field":"x0","type":"quantitative"},"y":{"field":"y0","type":"quantitative"},"text":{"field":"label"}}},
 {"data":{"name":"cells"},"transform":[{"filter":"datum.tier==='m'"}],"mark":{"type":"text","align":"left","baseline":"top","font":"'Roboto Condensed','Noto Sans Condensed','Open Sans Condensed','DejaVu Sans Condensed',Roboto","fontSize":28,"lineHeight":26,"lineBreak":"\n","dx":4,"dy":5,"color":"#fff8ea"},
  "encoding":{"x":{"field":"x0","type":"quantitative"},"y":{"field":"y0","type":"quantitative"},"text":{"field":"label"}}},
 {"data":{"name":"cells"},"transform":[{"filter":"datum.tier==='s'"}],"mark":{"type":"text","align":"left","baseline":"top","font":"'Roboto Condensed','Noto Sans Condensed','Open Sans Condensed','DejaVu Sans Condensed',Roboto","fontSize":26,"lineHeight":28,"lineBreak":"\n","dx":4,"dy":6,"color":"#fff8ea"},
  "encoding":{"x":{"field":"x0","type":"quantitative"},"y":{"field":"y0","type":"quantitative"},"text":{"field":"label"}}},
 {"data":{"name":"cells"},"transform":[{"filter":"datum.tier==='xs'"}],"mark":{"type":"text","align":"left","baseline":"top","font":"'Roboto Condensed','Noto Sans Condensed','Open Sans Condensed','DejaVu Sans Condensed',Roboto","fontSize":18.5,"lineHeight":24,"lineBreak":"\n","dx":4,"dy":10,"color":"#fff8ea"},
  "encoding":{"x":{"field":"x0","type":"quantitative"},"y":{"field":"y0","type":"quantitative"},"text":{"field":"label"}}},
 {"data":{"name":"cells"},"transform":[{"filter":"datum.tier==='t'"}],"mark":{"type":"text","align":"left","baseline":"top","font":"'Roboto Condensed','Noto Sans Condensed','Open Sans Condensed','DejaVu Sans Condensed',Roboto","fontSize":14.2,"lineHeight":18.5,"lineBreak":"\n","dx":3,"dy":7},
  "encoding":{"x":{"field":"x0","type":"quantitative"},"y":{"field":"y0","type":"quantitative"},"text":{"field":"label"},
   "color":{"condition":{"test":"datum.group==='yellow'||datum.group==='amber'","value":"#3a2c00"},"value":"#fff8ea"}}}
]},
{"layer":[
 {"data":{"values":[{"frame":"chart"}]},"mark":{"type":"rect","fill":"#ffffff","stroke":"#000000","strokeWidth":2.5},
  "encoding":{
   "x":{"datum":2006.49,"type":"quantitative","scale":{"domain":[2008,2021],"range":[1395,1927],"nice":false},"axis":{"orient":"bottom","offset":-791,"zindex":1,"values":[2008,2010,2012,2014,2016,2018,2020],"format":"d","title":null,"grid":false,"domain":false,"ticks":false,"labelFlush":false,"labelPadding":0,"labelFont":"Liberation Sans","labelFontSize":11,"labelColor":"#666666"}},
   "x2":{"datum":2021.82},
   "y":{"datum":30.43,"type":"quantitative","scale":{"domain":[20,30],"range":[738,437],"nice":false},"axis":{"orient":"left","offset":-1369,"zindex":1,"values":[20,22,24,26,28,30],"labelExpr":"datum.value+'%'","title":null,"grid":false,"domain":false,"ticks":false,"labelPadding":0,"labelFont":"Liberation Sans","labelFontSize":11,"labelColor":"#777777"}},
   "y2":{"datum":17.31}}},
 {"data":{"name":"gridlines"},"mark":{"type":"rule","color":"#b5b5b5","strokeWidth":1.5},
  "encoding":{"x":{"datum":2007.49,"type":"quantitative"},"x2":{"datum":2021.57},"y":{"field":"share","type":"quantitative"}}},
 {"data":{"name":"rail"},"mark":{"type":"line","strokeWidth":3.5,"strokeJoin":"miter"},
  "encoding":{"x":{"field":"year","type":"quantitative"},"y":{"field":"share","type":"quantitative"},
   "color":{"datum":"Total freight (by payload) moved by rail (%)","scale":{"range":["#edbd5a"]},
    "legend":{"orient":"none","legendX":1372,"legendY":764,"title":null,"symbolType":"stroke","symbolSize":160,"symbolStrokeWidth":3,"labelFont":"Liberation Sans","labelFontSize":11,"labelColor":"#555555","labelOffset":6,"labelLimit":400}}}},
 {"data":{"values":[{"text":"Source: PwC analysis, Stats SA"}]},"mark":{"type":"text","align":"left","font":"Liberation Sans","fontSize":14,"color":"#666666"},
  "encoding":{"x":{"datum":2006.68,"type":"quantitative"},"y":{"datum":17.64,"type":"quantitative"},"text":{"field":"text"}}}
]},
{"layer":[
 {"data":{"name":"bands"},"transform":[{"filter":"datum.band==='a'"}],"mark":{"type":"area","color":{"gradient":"linear","x1":0,"y1":0,"x2":0,"y2":1,"stops":[{"offset":0,"color":"#a3bccf"},{"offset":1,"color":"#4a93c4"}]}},
  "encoding":{
   "x":{"field":"x","type":"quantitative","axis":null,"scale":{"domain":[0,1500],"range":[1520,2020],"nice":false}},
   "y":{"field":"y","type":"quantitative","axis":null,"scale":{"domain":[0,660],"range":[20,240],"nice":false}},
   "y2":{"field":"y2"}}},
 {"data":{"name":"bands"},"transform":[{"filter":"datum.band==='b'"}],"mark":{"type":"area","color":{"gradient":"linear","x1":0,"y1":0,"x2":0,"y2":1,"stops":[{"offset":0,"color":"#16233f"},{"offset":1,"color":"#5f7f9e"}]}},
  "encoding":{"x":{"field":"x","type":"quantitative"},"y":{"field":"y","type":"quantitative"},"y2":{"field":"y2"}}},
 {"data":{"name":"bands"},"transform":[{"filter":"datum.band==='c'"}],"mark":{"type":"area","color":{"gradient":"linear","x1":0,"y1":0,"x2":0,"y2":1,"stops":[{"offset":0,"color":"#6a98bb"},{"offset":1,"color":"#16233f"}]}},
  "encoding":{"x":{"field":"x","type":"quantitative"},"y":{"field":"y","type":"quantitative"},"y2":{"field":"y2"}}},
 {"data":{"name":"bands"},"transform":[{"filter":"datum.band==='d'"}],"mark":{"type":"area","color":{"gradient":"linear","x1":0,"y1":0,"x2":0,"y2":1,"stops":[{"offset":0,"color":"#4f9bcc"},{"offset":1,"color":"#a3bccf"}]}},
  "encoding":{"x":{"field":"x","type":"quantitative"},"y":{"field":"y","type":"quantitative"},"y2":{"field":"y2"}}},
 {"data":{"name":"arc"},"mark":{"type":"area","color":"#1b2040"},
  "encoding":{"x":{"field":"x","type":"quantitative"},"y":{"field":"y","type":"quantitative"},"y2":{"field":"y2"}}},
 {"data":{"name":"rays"},"mark":{"type":"line","color":"#38a8d8","strokeWidth":2.4},
  "encoding":{"x":{"field":"x","type":"quantitative"},"y":{"field":"y","type":"quantitative"},"detail":{"field":"ray"}}},
 {"data":{"values":[{"text":"BOTSWANA"}]},"mark":{"type":"text","align":"left","font":"Liberation Serif","fontWeight":"bold","fontSize":47.5,"color":"#1b2347","stroke":"#1b2347","strokeWidth":1.5},
  "encoding":{"x":{"datum":578,"type":"quantitative"},"y":{"datum":365,"type":"quantitative"},"text":{"field":"text"}}},
 {"data":{"values":[{"text":"D I A M O N D S"}]},"mark":{"type":"text","align":"left","font":"Open Sans","fontWeight":"bold","fontSize":22,"color":"#2ea6d6"},
  "encoding":{"x":{"datum":680,"type":"quantitative"},"y":{"datum":455,"type":"quantitative"},"text":{"field":"text"}}},
 {"data":{"values":[{"text":"P L C"}]},"mark":{"type":"text","align":"left","font":"Open Sans","fontSize":12,"color":"#5a6a7a"},
  "encoding":{"x":{"datum":1200,"type":"quantitative"},"y":{"datum":447,"type":"quantitative"},"text":{"field":"text"}}}
]}
]
}
